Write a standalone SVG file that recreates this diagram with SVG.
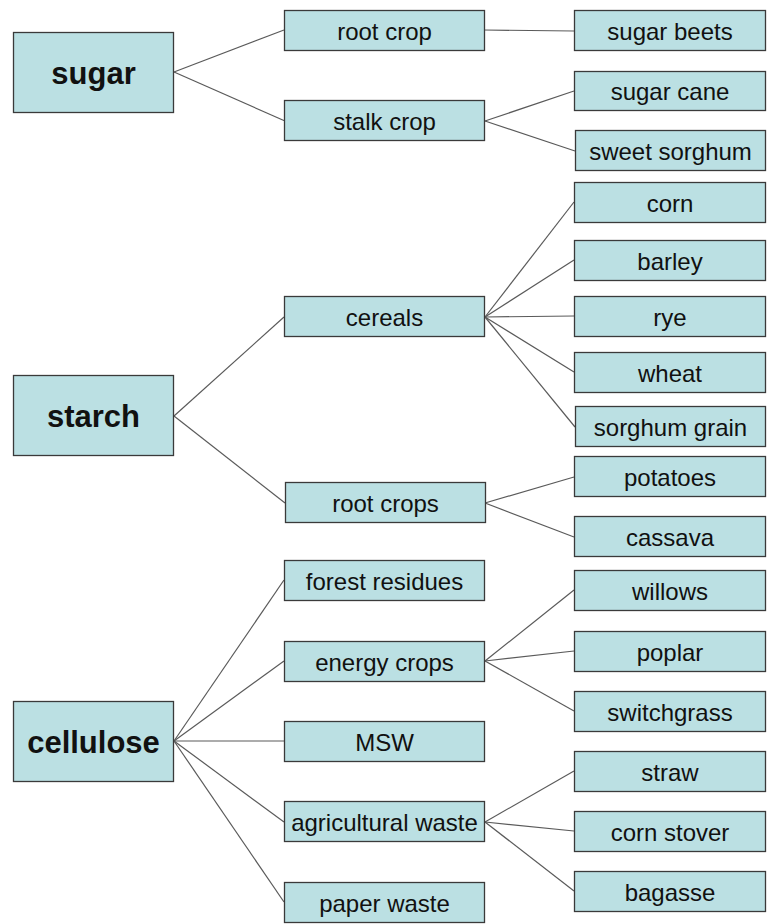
<svg xmlns="http://www.w3.org/2000/svg" width="770" height="924" viewBox="0 0 770 924">
<style>
.b{fill:#BBE0E3;stroke:#3a3a3a;stroke-width:1.3}
.t1{font-family:"Liberation Sans",Arial,sans-serif;font-size:31px;font-weight:bold;fill:#111;text-anchor:middle}
.t{font-family:"Liberation Sans",Arial,sans-serif;font-size:24px;fill:#111;text-anchor:middle}
#connectors line{stroke:#5a5a5a;stroke-width:1.2}
</style>
<rect width="770" height="924" fill="#fff"/>
<g id="connectors">
<line x1="174" y1="72" x2="284" y2="30"/>
<line x1="174" y1="72" x2="285" y2="121"/>
<line x1="484" y1="30" x2="574" y2="31"/>
<line x1="485" y1="121" x2="574" y2="91"/>
<line x1="485" y1="121" x2="575" y2="151"/>
<line x1="174" y1="416" x2="284" y2="317"/>
<line x1="174" y1="416" x2="285" y2="503"/>
<line x1="485" y1="317" x2="574" y2="202"/>
<line x1="485" y1="317" x2="574" y2="260"/>
<line x1="485" y1="317" x2="574" y2="316"/>
<line x1="485" y1="317" x2="574" y2="372"/>
<line x1="485" y1="317" x2="575" y2="427"/>
<line x1="485" y1="503" x2="574" y2="477"/>
<line x1="485" y1="503" x2="574" y2="537"/>
<line x1="174" y1="741" x2="284" y2="580"/>
<line x1="174" y1="741" x2="284" y2="661"/>
<line x1="174" y1="741" x2="284" y2="741"/>
<line x1="174" y1="741" x2="284" y2="822"/>
<line x1="174" y1="741" x2="284" y2="902"/>
<line x1="485" y1="661" x2="574" y2="590"/>
<line x1="485" y1="661" x2="574" y2="651"/>
<line x1="485" y1="661" x2="574" y2="711"/>
<line x1="485" y1="822" x2="574" y2="771"/>
<line x1="485" y1="822" x2="574" y2="831"/>
<line x1="485" y1="822" x2="574" y2="891"/>
</g>
<g id="sugar"><rect class="b" x="13.5" y="32.5" width="160" height="80"/><text class="t1" x="93.5" y="84">sugar</text></g>
<g id="starch"><rect class="b" x="13.5" y="375.5" width="160" height="80"/><text class="t1" x="93.5" y="427">starch</text></g>
<g id="cellulose"><rect class="b" x="13.5" y="701.5" width="160" height="80"/><text class="t1" x="93.5" y="753">cellulose</text></g>

<g id="root-crop"><rect class="b" x="284.5" y="10.5" width="200" height="40"/><text class="t" x="384.5" y="39.5">root crop</text></g>
<g id="stalk-crop"><rect class="b" x="284.5" y="100.5" width="200" height="40"/><text class="t" x="384.5" y="129.5">stalk crop</text></g>
<g id="cereals"><rect class="b" x="284.5" y="296.5" width="200" height="40"/><text class="t" x="384.5" y="325.5">cereals</text></g>
<g id="root-crops"><rect class="b" x="285.5" y="482.5" width="200" height="40"/><text class="t" x="385.5" y="511.5">root crops</text></g>
<g id="forest-residues"><rect class="b" x="284.5" y="560.5" width="200" height="40"/><text class="t" x="384.5" y="589.5">forest residues</text></g>
<g id="energy-crops"><rect class="b" x="284.5" y="641.5" width="200" height="40"/><text class="t" x="384.5" y="670.5">energy crops</text></g>
<g id="msw"><rect class="b" x="284.5" y="721.5" width="200" height="40"/><text class="t" x="384.5" y="750.5">MSW</text></g>
<g id="agricultural-waste"><rect class="b" x="284.5" y="801.5" width="200" height="40"/><text class="t" x="384.5" y="830.5">agricultural waste</text></g>
<g id="paper-waste"><rect class="b" x="284.5" y="882.5" width="200" height="40"/><text class="t" x="384.5" y="911.5">paper waste</text></g>

<g id="sugar-beets"><rect class="b" x="574.5" y="10.5" width="191" height="40"/><text class="t" x="670" y="39.5">sugar beets</text></g>
<g id="sugar-cane"><rect class="b" x="574.5" y="71.5" width="191" height="39"/><text class="t" x="670" y="100">sugar cane</text></g>
<g id="sweet-sorghum"><rect class="b" x="575.5" y="130.5" width="190" height="40"/><text class="t" x="670.5" y="159.5">sweet sorghum</text></g>
<g id="corn"><rect class="b" x="574.5" y="182.5" width="191" height="40"/><text class="t" x="670" y="211.5">corn</text></g>
<g id="barley"><rect class="b" x="574.5" y="240.5" width="191" height="40"/><text class="t" x="670" y="269.5">barley</text></g>
<g id="rye"><rect class="b" x="574.5" y="296.5" width="191" height="40"/><text class="t" x="670" y="325.5">rye</text></g>
<g id="wheat"><rect class="b" x="574.5" y="352.5" width="191" height="40"/><text class="t" x="670" y="381.5">wheat</text></g>
<g id="sorghum-grain"><rect class="b" x="575.5" y="406.5" width="190" height="40"/><text class="t" x="670.5" y="435.5">sorghum grain</text></g>
<g id="potatoes"><rect class="b" x="574.5" y="456.5" width="191" height="40"/><text class="t" x="670" y="485.5">potatoes</text></g>
<g id="cassava"><rect class="b" x="574.5" y="516.5" width="191" height="40"/><text class="t" x="670" y="545.5">cassava</text></g>
<g id="willows"><rect class="b" x="574.5" y="570.5" width="191" height="40"/><text class="t" x="670" y="599.5">willows</text></g>
<g id="poplar"><rect class="b" x="574.5" y="631.5" width="191" height="40"/><text class="t" x="670" y="660.5">poplar</text></g>
<g id="switchgrass"><rect class="b" x="574.5" y="691.5" width="191" height="40"/><text class="t" x="670" y="720.5">switchgrass</text></g>
<g id="straw"><rect class="b" x="574.5" y="751.5" width="191" height="40"/><text class="t" x="670" y="780.5">straw</text></g>
<g id="corn-stover"><rect class="b" x="574.5" y="811.5" width="191" height="40"/><text class="t" x="670" y="840.5">corn stover</text></g>
<g id="bagasse"><rect class="b" x="574.5" y="871.5" width="191" height="40"/><text class="t" x="670" y="900.5">bagasse</text></g>
</svg>
